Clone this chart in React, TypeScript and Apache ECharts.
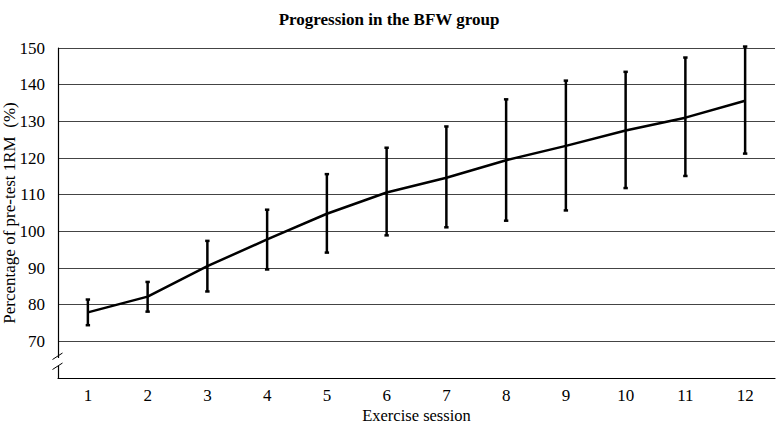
import React, { useEffect, useRef } from "react";
import * as echarts from "echarts";

const sessions = ["1", "2", "3", "4", "5", "6", "7", "8", "9", "10", "11", "12"];
const meanValues = [77.9, 82.2, 90.5, 97.8, 104.8, 110.6, 114.6, 119.4, 123.3, 127.5, 131.0, 135.6];
const upperValues = [81.4, 86.2, 97.4, 105.9, 115.6, 122.8, 128.6, 136.0, 141.1, 143.5, 147.4, 150.4];
const lowerValues = [74.4, 78.1, 83.6, 89.6, 94.2, 98.9, 101.1, 102.9, 105.7, 111.8, 115.1, 121.2];
const yTicks = [60, 70, 80, 90, 100, 110, 120, 130, 140, 150];

const FONT = "'Liberation Serif', 'Times New Roman', serif";

export default function App() {
  const ref = useRef<HTMLDivElement>(null);
  useEffect(() => {
    if (!ref.current) return;
    const chart = echarts.init(ref.current, undefined, { renderer: "svg" });
    const errData = sessions.map((_, i) => [i, lowerValues[i], upperValues[i]]);
    chart.setOption({
      animation: false,
      backgroundColor: "#ffffff",
      title: {
        text: "Progression in the BFW group",
        left: "center",
        top: 6,
        textStyle: { fontFamily: FONT, fontSize: 17, fontWeight: "bold", color: "#000" },
      },
      grid: { left: 58, right: 3, top: 48, bottom: 49, outerBoundsMode: "none", containLabel: false },
      xAxis: {
        type: "category",
        data: sessions,
        boundaryGap: true,
        axisTick: { show: false },
        axisLine: { onZero: false, lineStyle: { color: "#000", width: 1.2 } },
        axisLabel: { fontFamily: FONT, fontSize: 17, color: "#000", margin: 9 },
        name: "Exercise session",
        nameLocation: "middle",
        nameGap: 29,
        nameMoveOverlap: false,
        nameTextStyle: { fontFamily: FONT, fontSize: 16.5, color: "#000" },
      },
      yAxis: {
        type: "value",
        min: yTicks[0],
        max: yTicks[yTicks.length - 1],
        interval: 10,
        axisLine: { show: true, lineStyle: { color: "#000", width: 1.2 } },
        axisTick: { show: false },
        splitLine: { lineStyle: { color: "#444", width: 1 } },
        axisLabel: {
          fontFamily: FONT,
          fontSize: 17,
          color: "#000",
          margin: 13,
          formatter: (v: number) => (v === yTicks[0] ? "" : String(v)),
        },
        name: "Percentage of pre-test 1RM  (%)",
        nameLocation: "middle",
        nameRotate: 90,
        nameGap: 40,
        nameMoveOverlap: false,
        nameTextStyle: { fontFamily: FONT, fontSize: 17, color: "#000" },
      },
      graphic: [
        { type: "rect", shape: { x: 54, y: 358, width: 8, height: 8 }, style: { fill: "#fff" }, z: 100 },
        { type: "line", shape: { x1: 52.5, y1: 359.5, x2: 62.5, y2: 353 }, style: { stroke: "#000", lineWidth: 1 }, z: 101 },
        { type: "line", shape: { x1: 52.5, y1: 369.5, x2: 62.5, y2: 363 }, style: { stroke: "#000", lineWidth: 1 }, z: 101 },
      ],
      series: [
        {
          type: "line",
          data: meanValues,
          symbol: "none",
          lineStyle: { color: "#000", width: 2.5 },
          z: 3,
        },
        {
          type: "custom",
          data: errData,
          z: 4,
          renderItem: (params: any, api: any) => {
            const idx = api.value(0);
            const lo = api.coord([idx, api.value(1)]);
            const hi = api.coord([idx, api.value(2)]);
            const w = 2.2;
            const st = { stroke: "#000", lineWidth: 2.5 };
            return {
              type: "group",
              children: [
                { type: "line", shape: { x1: hi[0], y1: hi[1], x2: lo[0], y2: lo[1] }, style: st },
                { type: "line", shape: { x1: hi[0] - w, y1: hi[1], x2: hi[0] + w, y2: hi[1] }, style: st },
                { type: "line", shape: { x1: lo[0] - w, y1: lo[1], x2: lo[0] + w, y2: lo[1] }, style: st },
              ],
            };
          },
        },
      ],
    });
    return () => chart.dispose();
  }, []);
  return (
    <div style={{ position: "fixed", left: 0, top: 0, width: 778, height: 427, overflow: "hidden", background: "#fff" }}>
      <div ref={ref} style={{ width: 778, height: 427 }} />
    </div>
  );
}
